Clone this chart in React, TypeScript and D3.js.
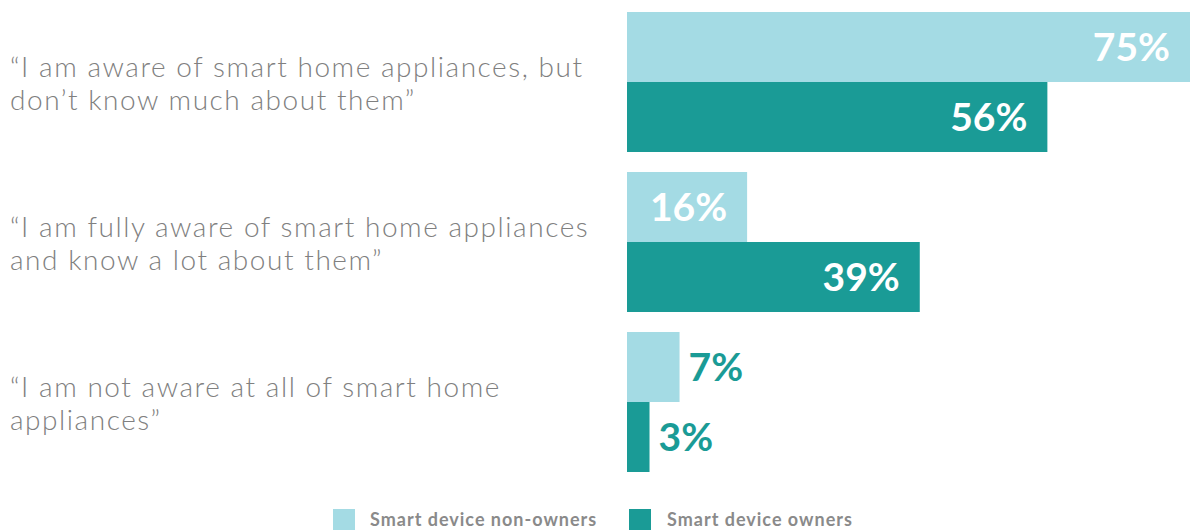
import * as d3 from "d3";

const WIDTH = 1190;
const HEIGHT = 530;
const MARGIN = { top: 12, left: 627, right: 0 };
const GROUP_STEP = 160;
const GROUP_GAP = 20;

// survey answers, one entry per line of the label
const CATEGORIES = ["aware", "fully", "not"];
const CATEGORY_LINES = [
  ["\u201cI am aware of smart home appliances, but", "don\u2019t know much about them\u201d"],
  ["\u201cI am fully aware of smart home appliances", "and know a lot about them\u201d"],
  ["\u201cI am not aware at all of smart home", "appliances\u201d"],
];
const SERIES = ["Smart device non-owners", "Smart device owners"];
const NON_OWNERS = [75, 16, 7];
const OWNERS = [56, 39, 3];
const COLORS = ["#a4dbe4", "#1a9b96"];

const TEXT_GRAY = "#808080";
const LABEL_FONT = "Lato, 'Open Sans', sans-serif";

export default function App() {
  const values = [NON_OWNERS, OWNERS];
  const maxValue = d3.max([...NON_OWNERS, ...OWNERS])!;

  const x = d3.scaleLinear().domain([0, maxValue]).range([MARGIN.left, WIDTH - MARGIN.right]);

  const y = d3
    .scaleBand()
    .domain(CATEGORIES)
    .range([MARGIN.top, MARGIN.top + CATEGORIES.length * GROUP_STEP - GROUP_GAP])
    .paddingInner(GROUP_GAP / GROUP_STEP)
    .paddingOuter(0);

  const ySub = d3.scaleBand().domain(SERIES).range([0, y.bandwidth()]).padding(0);

  return (
    <svg
      width={WIDTH}
      height={HEIGHT}
      style={{ position: "absolute", left: 0, top: 0, background: "#fff" }}
    >
      {/* category labels on the left */}
      {CATEGORIES.map((c, i) => {
        const cy = y(c)! + y.bandwidth() / 2;
        return (
          <text
            key={c}
            x={10}
            y={cy - 5}
            fill={TEXT_GRAY}
            fontFamily={LABEL_FONT}
            fontWeight={300}
            fontSize={28}
            letterSpacing={1.55}
          >
            {CATEGORY_LINES[i].map((line, j) => (
              <tspan key={j} x={10} dy={j === 0 ? 0 : 33}>
                {line}
              </tspan>
            ))}
          </text>
        );
      })}

      {/* bars */}
      {CATEGORIES.map((c, i) => (
        <g key={c} transform={`translate(0, ${y(c)})`}>
          {SERIES.map((s, k) => {
            const v = values[k][i];
            const w = x(v) - x(0);
            const inside = w > 100;
            const by = ySub(s)!;
            return (
              <g key={s}>
                <rect x={x(0)} y={by} width={w} height={ySub.bandwidth()} fill={COLORS[k]} />
                <text
                  x={inside ? x(v) - 20 : x(v) + 9}
                  y={by + ySub.bandwidth() / 2}
                  dy="0.36em"
                  textAnchor={inside ? "end" : "start"}
                  fill={inside ? "#fff" : COLORS[1]}
                  fontFamily={LABEL_FONT}
                  fontWeight={700}
                  fontSize={39}
                >
                  {v}%
                </text>
              </g>
            );
          })}
        </g>
      ))}

      {/* legend */}
      <g fontFamily={LABEL_FONT} fontWeight={700} fontSize={18} fill="#8a8a8a" letterSpacing={1}>
        <rect x={333} y={509} width={22} height={22} fill={COLORS[0]} />
        <text x={370} y={526}>
          {SERIES[0]}
        </text>
        <rect x={629} y={509} width={22} height={22} fill={COLORS[1]} />
        <text x={667} y={526}>
          {SERIES[1]}
        </text>
      </g>
    </svg>
  );
}
